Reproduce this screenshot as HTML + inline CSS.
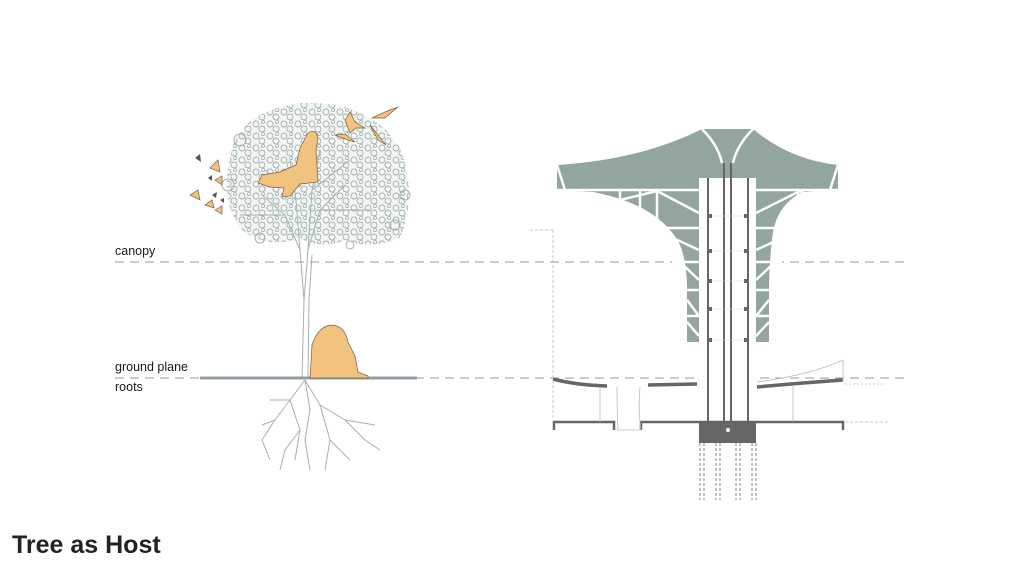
<!DOCTYPE html>
<html><head><meta charset="utf-8"><style>
html,body{margin:0;padding:0;background:#fff;width:1024px;height:571px;overflow:hidden}
svg{display:block}
text{font-family:"Liberation Sans",sans-serif;fill:#1a1a1a}
</style></head><body>
<svg width="1024" height="571" viewBox="0 0 1024 571" xmlns="http://www.w3.org/2000/svg">
<defs>
<pattern id="leaf" width="14" height="12" patternUnits="userSpaceOnUse">
<rect width="14" height="12" fill="#f4f6f5"/>
<circle cx="4" cy="4" r="3" fill="none" stroke="#9fb0aa" stroke-width="0.9"/>
<circle cx="10" cy="9" r="3" fill="none" stroke="#9fb0aa" stroke-width="0.9"/>
<circle cx="11" cy="2" r="1.6" fill="none" stroke="#9fb0aa" stroke-width="0.8"/>
</pattern>
</defs>
<!-- dashed reference lines -->
<line x1="115" y1="262" x2="908" y2="262" stroke="#999" stroke-width="1" stroke-dasharray="9,6"/>
<line x1="115" y1="378" x2="908" y2="378" stroke="#999" stroke-width="1" stroke-dasharray="9,6"/>
<text x="115" y="255" font-size="12.5">canopy</text>
<text x="115" y="371" font-size="12.5">ground plane</text>
<text x="115" y="391" font-size="12.5">roots</text>
<text x="12" y="553" font-size="25" font-weight="bold" style="fill:#222">Tree as Host</text>

<!-- TREE canopy -->
<path d="M232 150 Q240 112 300 103 Q370 100 400 148 Q418 195 400 238 Q370 250 345 240 Q320 250 300 238 Q265 250 240 228 Q218 195 232 150Z" fill="url(#leaf)"/>
<g fill="none" stroke="#a3b2ad" stroke-width="1">
<circle cx="240" cy="140" r="6"/><circle cx="228" cy="185" r="6"/><circle cx="405" cy="195" r="5"/><circle cx="395" cy="225" r="5"/><circle cx="260" cy="238" r="5"/><circle cx="350" cy="245" r="4"/>
<!-- trunk & branches -->
<path d="M302 378 L304 300 L300 250 L285 215 L262 195 M304 300 L308 250 L320 210 L345 185 M300 250 L296 200 L290 160 M308 250 L312 190 L320 150 M285 215 L240 215 M320 210 L370 210 M312 190 L350 160 M296 200 L265 170"/>
<path d="M308 378 L309 300 L312 255"/>
<!-- roots -->
<path d="M305 380 L290 400 L275 420 L262 440 M290 400 L300 430 L295 460 M305 380 L320 405 L345 420 L365 440 M320 405 L330 440 L325 470 M305 380 L310 410 L305 440 L310 470 M275 420 L262 425 M345 420 L375 425 M262 440 L270 460 M365 440 L380 450 M300 430 L285 450 L280 470 M330 440 L350 460 M290 400 L270 400"/>
</g>
<!-- ground bar -->
<line x1="200" y1="378" x2="417" y2="378" stroke="#8fa09a" stroke-width="3"/>
<!-- people -->
<g fill="#f2c27f" stroke="#7a6040" stroke-width="0.7">
<path d="M308 133 Q316 128 318 138 L316 150 L318 182 L300 184 L290 196 L282 197 L284 188 L270 187 L258 183 L262 175 L280 172 L296 165 L300 148 Z"/>
<path d="M310 378 L312 345 Q318 326 332 325 Q345 326 348 342 L355 356 L358 372 L368 376 L368 378 Z"/>
<!-- birds -->
<path d="M345 120 L350 112 L355 122 L365 128 L356 128 L350 133 Z"/>
<path d="M372 118 L385 112 L398 107 L385 118 Z"/>
<path d="M370 125 L378 140 L386 145 L378 135 Z"/>
<path d="M335 135 L348 140 L355 142 L345 134 Z"/>
<!-- butterflies -->
<path d="M190 195 L198 190 L200 200 Z"/><path d="M210 168 L218 160 L220 172 Z"/><path d="M215 180 L222 176 L222 185 Z"/><path d="M205 205 L212 200 L214 208 Z"/><path d="M215 210 L222 206 L222 214 Z"/>
</g>
<g fill="#555"><path d="M195 158 L200 154 L201 162 Z"/><path d="M208 178 L212 175 L212 181 Z"/><path d="M212 195 L217 192 L216 198 Z"/><path d="M220 200 L224 198 L224 203 Z"/></g>

<!-- STRUCTURE -->
<path fill="#93a69e" d="M557 165 Q640 160 702 129 L753 129 Q790 160 838 165 L838 190 L803 192 Q775 205 772 240 Q769 265 769 290 L769 342 L687 342 L687 290 Q687 262 680 245 Q660 205 593 192 L557 190 Z"/>
<!-- white strut lines -->
<g stroke="#fff" stroke-width="2.5" fill="none">
<path d="M557 190 L838 190"/>
<path d="M702 129 Q718 145 722 163 M753 129 Q737 145 733 163"/>
<path d="M557 165 L565 190 M838 165 L830 190"/>
<path d="M620 191 L620 203 M640 191 L640 210 M657 191 L657 226 M620 200 L657 191 L699 213"/>
<path d="M815 191 L815 203 M798 191 L798 226 M800 191 L756 213 M815 200 L800 191"/>
<path d="M660 228 L699 228 M756 228 L795 228 M660 232 L699 250 M795 232 L756 250 M672 262 L699 262 M756 262 L782 262 M680 262 L699 280 M775 262 L756 280 M687 290 L699 290 M756 290 L769 290 M687 300 L699 316 M769 300 L756 316 M687 316 L699 316 M756 316 L769 316 M687 322 L699 336 M769 322 L756 336"/>
</g>
<!-- column -->
<rect x="699" y="178" width="57" height="244" fill="#fff"/>
<g stroke="#666" stroke-width="2">
<line x1="708" y1="178" x2="708" y2="422"/><line x1="748" y1="178" x2="748" y2="422"/>
<line x1="724" y1="163" x2="724" y2="422"/><line x1="731" y1="163" x2="731" y2="422"/>
</g>
<g stroke="#ddd" stroke-width="0.6"><line x1="710" y1="216" x2="746" y2="216"/><line x1="710" y1="251" x2="746" y2="251"/><line x1="710" y1="281" x2="746" y2="281"/><line x1="710" y1="309" x2="746" y2="309"/><line x1="710" y1="340" x2="746" y2="340"/></g>
<g fill="#666"><rect x="708" y="214" width="4" height="4"/><rect x="744" y="214" width="4" height="4"/><rect x="708" y="249" width="4" height="4"/><rect x="744" y="249" width="4" height="4"/><rect x="708" y="279" width="4" height="4"/><rect x="744" y="279" width="4" height="4"/><rect x="708" y="307" width="4" height="4"/><rect x="744" y="307" width="4" height="4"/><rect x="708" y="338" width="4" height="4"/><rect x="744" y="338" width="4" height="4"/></g>
<!-- base -->
<rect x="699" y="422" width="57" height="21" fill="#666"/>
<circle cx="728" cy="430" r="2" fill="#fff"/>
<g stroke="#666" stroke-width="0.8" stroke-dasharray="3,2"><line x1="700" y1="443" x2="700" y2="500"/><line x1="704" y1="443" x2="704" y2="500"/><line x1="716" y1="443" x2="716" y2="500"/><line x1="720" y1="443" x2="720" y2="500"/><line x1="736" y1="443" x2="736" y2="500"/><line x1="740" y1="443" x2="740" y2="500"/><line x1="752" y1="443" x2="752" y2="500"/><line x1="756" y1="443" x2="756" y2="500"/></g>
<!-- deck -->
<g stroke="#666" stroke-width="3.5" fill="none">
<path d="M553 379 Q575 385 607 386"/><path d="M648 385 L697 384"/><path d="M757 387 Q800 383 843 380"/>
</g>
<g stroke="#666" stroke-width="2.5" fill="none">
<path d="M554 430 L554 422 L614 422 L614 430"/><path d="M641 430 L641 422 L843 422 L843 430"/>
</g>
<g stroke="#bbb" stroke-width="0.8" fill="none">
<path d="M600 387 L600 422 M793 385 L793 422 M617 387 Q617 410 618 430 M640 387 Q638 410 641 430 M617 430 L641 430 M757 382 Q810 375 843 360 L843 381"/>
<path d="M553 230 L553 422" stroke-dasharray="3,2"/><path d="M530 230 L553 230" stroke-dasharray="3,2"/>
<path d="M845 422 L890 422" stroke-dasharray="3,2"/><path d="M845 384 L885 384" stroke-dasharray="2,2"/>
</g>
</svg>
</body></html>
